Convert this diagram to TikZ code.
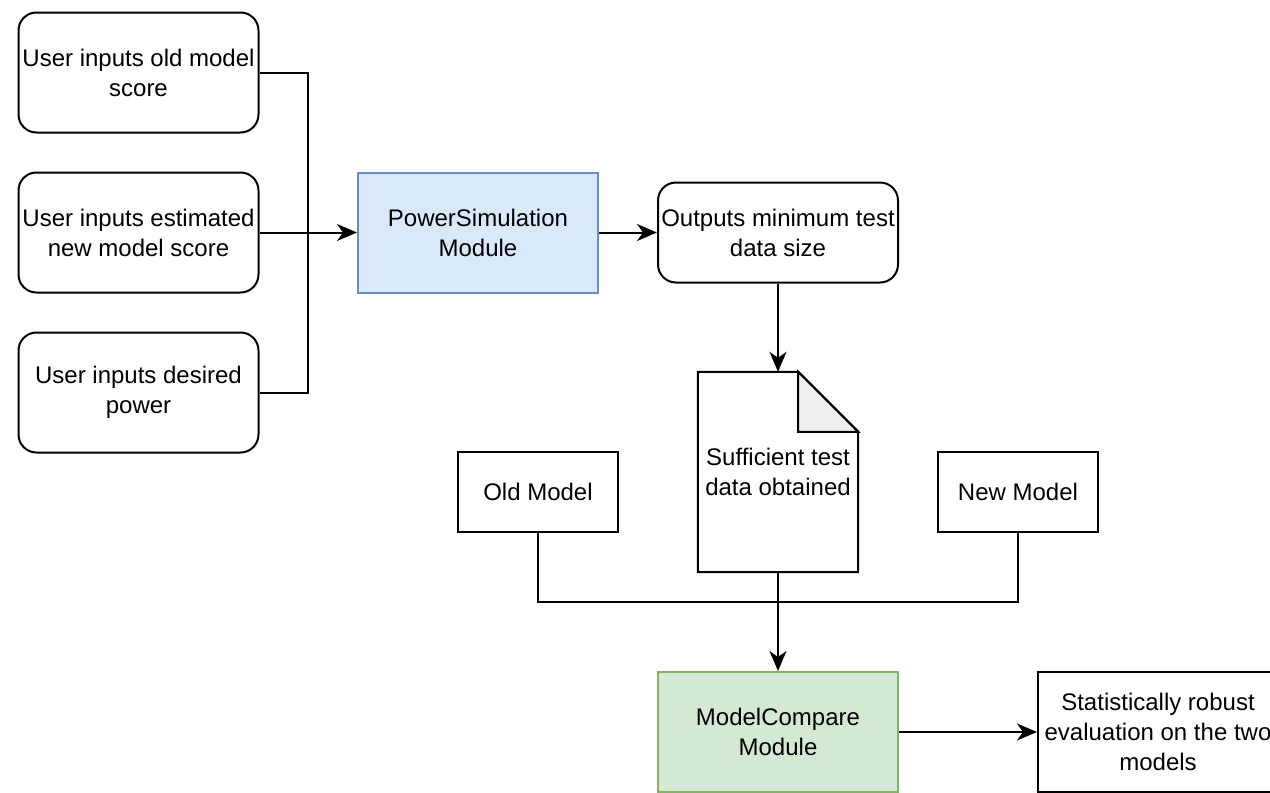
\documentclass[tikz,border=0pt]{standalone}
\usepackage{fontspec}
\setmainfont{Liberation Sans}
\usetikzlibrary{arrows.meta}
\definecolor{bluefill}{HTML}{DAE8FC}
\definecolor{bluedraw}{HTML}{6C8EBF}
\definecolor{greenfill}{HTML}{D5E8D4}
\definecolor{greendraw}{HTML}{82B366}
\definecolor{foldfill}{HTML}{EEEEEE}
\begin{document}
\begin{tikzpicture}[x=1pt,y=-1pt,
  every node/.style={font=\fontsize{24}{30}\selectfont, align=center, inner sep=0pt},
  rbox/.style={draw, line width=2pt, rounded corners=18pt, minimum width=240pt, minimum height=120pt},
  sbox/.style={draw, line width=2pt, minimum width=160pt, minimum height=80pt},
  conn/.style={line width=2pt, -{Stealth[length=20pt,width=17pt,inset=6pt]}},
  line/.style={line width=2pt}]
\useasboundingbox (0,0) rectangle (1270,793);
\node[rbox] (in1) at (138.5,72.5) {User inputs old model\\score};
\node[rbox] (in2) at (138.5,232.5) {User inputs estimated\\new model score};
\node[rbox] (in3) at (138.5,392.5) {User inputs desired\\power};
\node[draw=bluedraw, fill=bluefill, line width=2pt, minimum width=240pt, minimum height=120pt] (ps) at (478,232.5) {PowerSimulation\\Module};
\node[rbox, minimum height=100pt] (out) at (778,232.5) {Outputs minimum test\\data size};
\node[minimum width=160pt, minimum height=200pt] (doc) at (778,472) {Sufficient test\\data obtained};
\draw[line width=2pt, line join=miter] (doc.north west) -- ([xshift=-60pt]doc.north east) -- ([yshift=-60pt]doc.north east) -- (doc.south east) -- (doc.south west) -- cycle;
\draw[line width=2pt, fill=foldfill, line join=miter] ([xshift=-60pt]doc.north east) -- ([xshift=-60pt,yshift=-60pt]doc.north east) -- ([yshift=-60pt]doc.north east) -- cycle;
\node[sbox] (old) at (538,492) {Old Model};
\node[sbox] (new) at (1018,492) {New Model};
\node[draw=greendraw, fill=greenfill, line width=2pt, minimum width=240pt, minimum height=120pt] (mc) at (778,732) {ModelCompare\\Module};
\node[draw, line width=2pt, minimum width=240pt, minimum height=120pt] (res) at (1158,732) {Statistically robust\\evaluation on the two\\models};
\coordinate (j) at (308,232.5);
\coordinate (k) at (778,602);
\draw[line] (in1.east) -| (j);
\draw[line] (in3.east) -| (j);
\draw[conn] (in2.east) -- (ps.west);
\draw[conn] (ps.east) -- (out.west);
\draw[conn] (out.south) -- (doc.north);
\draw[line] (old.south) |- (k);
\draw[line] (new.south) |- (k);
\draw[conn] (doc.south) -- (mc.north);
\draw[conn] (mc.east) -- (res.west);
\end{tikzpicture}
\end{document}
